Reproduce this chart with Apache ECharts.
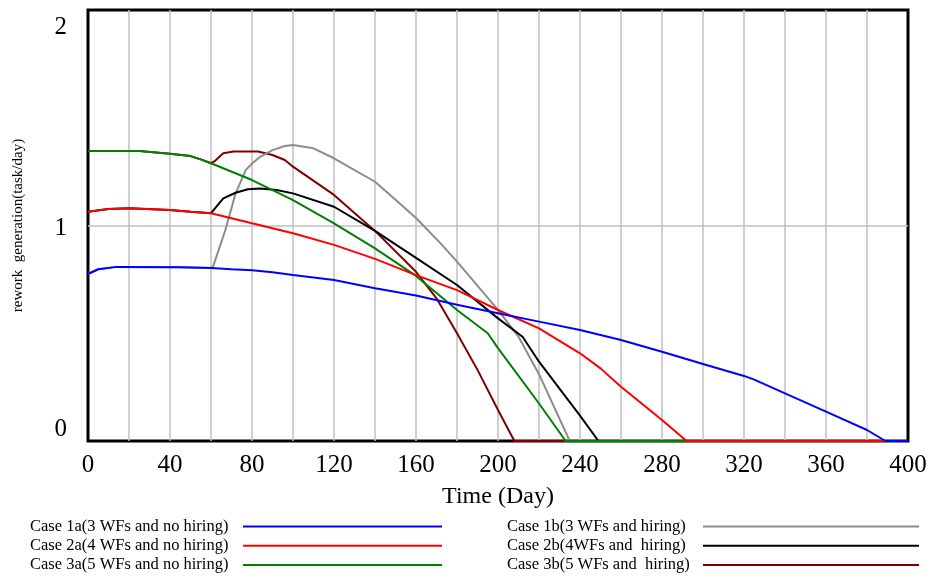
<!DOCTYPE html>
<html>
<head>
<meta charset="utf-8">
<script src="https://cdn.jsdelivr.net/npm/echarts@6/dist/echarts.min.js"></script>
<style>html,body{margin:0;padding:0;background:#fff;}#c{width:931px;height:578px;}</style>
</head>
<body>
<div id="c"></div>
<script>
// ---- data (time in days, rework generation in task/day) ----
const xTicks = [0, 40, 80, 120, 160, 200, 240, 280, 320, 360, 400];
const yTicks = [0, 1, 2];

const names = {
  c1a: 'Case 1a(3 WFs and no hiring)',
  c2a: 'Case 2a(4 WFs and no hiring)',
  c3a: 'Case 3a(5 WFs and no hiring)',
  c1b: 'Case 1b(3 WFs and hiring)',
  c2b: 'Case 2b(4WFs and  hiring)',
  c3b: 'Case 3b(5 WFs and  hiring)'
};

const case1a = [[0,0.775],[5,0.797],[14,0.808],[45,0.806],[60,0.803],[70,0.797],[80,0.792],[90,0.783],[100,0.770],[120,0.747],[140,0.709],[160,0.675],[180,0.632],[200,0.593],[220,0.554],[240,0.515],[260,0.469],[280,0.414],[300,0.357],[320,0.302],[325,0.285],[340,0.221],[360,0.136],[380,0.051],[389,0],[400,0]];
const case2a = [[0,1.064],[10,1.077],[20,1.080],[40,1.072],[50,1.064],[60,1.057],[80,1.010],[100,0.964],[120,0.910],[140,0.845],[160,0.770],[180,0.700],[200,0.608],[220,0.523],[240,0.407],[250,0.337],[260,0.252],[280,0.097],[292,0],[400,0]];
const case3a = [[0,1.346],[25,1.346],[40,1.333],[50,1.322],[55,1.307],[60,1.289],[80,1.211],[100,1.118],[120,1.010],[140,0.894],[160,0.766],[180,0.608],[195,0.500],[200,0.431],[220,0.174],[233,0],[400,0]];
const case1b = [[0,0.775],[5,0.797],[14,0.808],[45,0.806],[60,0.803],[61,0.809],[67,0.979],[72,1.149],[77,1.258],[80,1.288],[84,1.319],[90,1.350],[96,1.369],[100,1.374],[110,1.358],[120,1.312],[140,1.203],[150,1.120],[160,1.035],[172,0.917],[180,0.832],[200,0.608],[210,0.484],[220,0.310],[235,0],[400,0]];
const case2b = [[0,1.064],[10,1.077],[20,1.080],[40,1.072],[50,1.064],[60,1.057],[66,1.126],[72,1.152],[78,1.168],[84,1.172],[92,1.165],[100,1.149],[120,1.087],[140,0.975],[160,0.850],[180,0.724],[200,0.569],[212,0.484],[220,0.368],[240,0.118],[249,0],[400,0]];
const case3b = [[0,1.346],[25,1.346],[40,1.333],[50,1.322],[55,1.307],[60,1.289],[62,1.300],[66,1.335],[71,1.343],[83,1.343],[90,1.327],[96,1.304],[100,1.273],[120,1.142],[140,0.975],[160,0.785],[170,0.662],[180,0.500],[190,0.330],[200,0.144],[208,0],[400,0]];

const serif = 'Liberation Serif';

function mk(name, data, color) {
  return {
    name: name, type: 'line', data: data, showSymbol: false, symbol: 'none',
    lineStyle: { color: color, width: 2 }, itemStyle: { color: color },
    emphasis: { disabled: true }, animation: false
  };
}

function legendCfg(left, textW, lineW, data) {
  return {
    orient: 'vertical', left: left, top: 518, padding: 0, height: 60, align: 'right', icon: 'rect',
    itemWidth: lineW, itemHeight: 2, itemGap: 2.2, selectedMode: false,
    data: data,
    formatter: function (n) { return '{a|' + n + '}'; },
    textStyle: { fontFamily: serif, fontSize: 16.5, color: '#000',
      rich: { a: { fontFamily: serif, fontSize: 16.5, color: '#000', width: textW, align: 'left' } } }
  };
}

const chart = echarts.init(document.getElementById('c'));
chart.setOption({
  backgroundColor: '#fff',
  animation: false,
  grid: { left: 88, right: 23, top: 10, bottom: 137, show: true, borderColor: '#000', borderWidth: 3, backgroundColor: 'transparent' },
  xAxis: {
    type: 'value', min: 0, max: 400, interval: 20,
    name: 'Time (Day)', nameLocation: 'middle', nameGap: 44,
    nameTextStyle: { fontFamily: serif, fontSize: 24, color: '#000' },
    axisLine: { show: false }, axisTick: { show: false },
    axisLabel: {
      margin: 12, fontFamily: serif, fontSize: 25, color: '#000',
      formatter: function (v) { return xTicks.indexOf(v) >= 0 ? String(v) : ''; }
    },
    splitLine: { show: true, showMinLine: false, showMaxLine: false, lineStyle: { color: '#c0c0c0', width: 1.5 } }
  },
  yAxis: {
    type: 'value', min: 0, max: 2, interval: 1,
    name: 'rework  generation(task/day)', nameLocation: 'middle', nameGap: 62, nameRotate: 90,
    nameTextStyle: { fontFamily: serif, fontSize: 15, color: '#000' },
    axisLine: { show: false }, axisTick: { show: false },
    axisLabel: {
      margin: 21, fontFamily: serif, fontSize: 25, color: '#000',
      formatter: function (v) {
        if (yTicks.indexOf(v) < 0) return '';
        if (v === 2) return '{t|' + v + '}';
        if (v === 0) return '{b|' + v + '}';
        return '{m|' + v + '}';
      },
      rich: {
        t: { fontFamily: serif, fontSize: 25, color: '#000', padding: [35, 0, 0, 0] },
        b: { fontFamily: serif, fontSize: 25, color: '#000', padding: [0, 0, 24, 0] },
        m: { fontFamily: serif, fontSize: 25, color: '#000', padding: [5, 0, 0, 0] }
      }
    },
    splitLine: { show: true, showMinLine: false, showMaxLine: false, lineStyle: { color: '#c0c0c0', width: 1.5 } }
  },
  legend: [
    legendCfg(30, 208, 199, [names.c1a, names.c2a, names.c3a]),
    legendCfg(507, 191, 216, [names.c1b, names.c2b, names.c3b])
  ],
  series: [
    mk(names.c3b, case3b, '#800000'),
    mk(names.c1b, case1b, '#8c8c8c'),
    mk(names.c2b, case2b, '#000000'),
    mk(names.c3a, case3a, '#008000'),
    mk(names.c2a, case2a, '#ff0000'),
    mk(names.c1a, case1a, '#0000ff')
  ]
});
</script>
</body>
</html>
